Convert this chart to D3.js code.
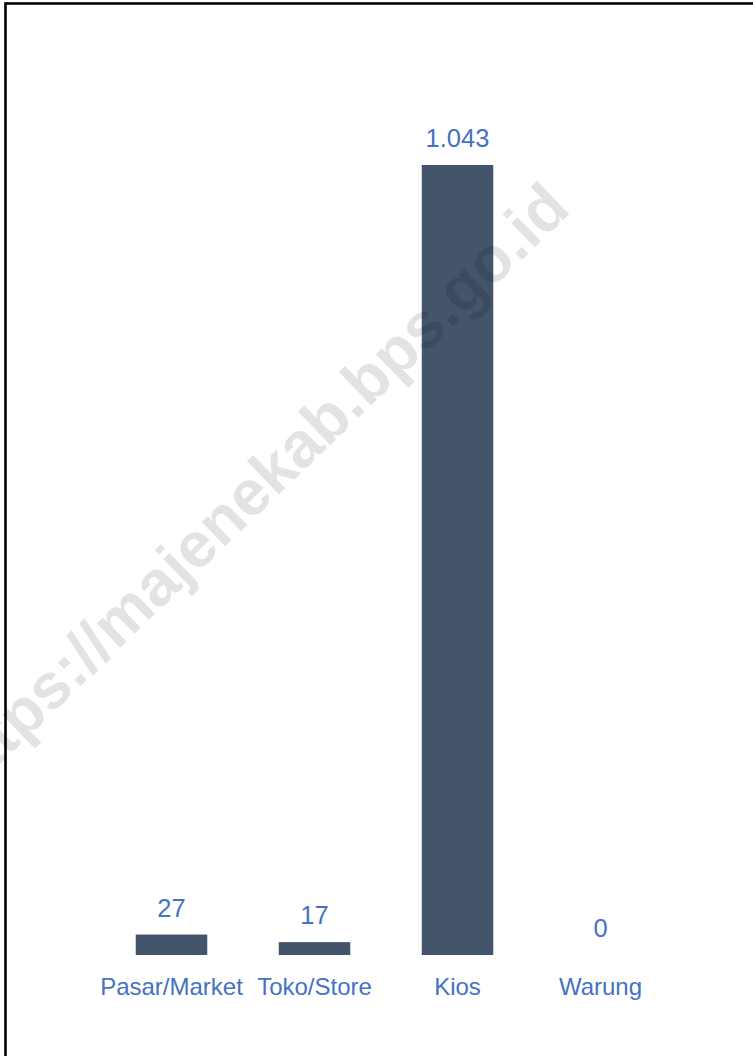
<!DOCTYPE html>
<html>
<head>
<meta charset="utf-8">
<script src="https://cdn.jsdelivr.net/npm/d3@7"></script>
<style>
  body { margin: 0; background: #fff; }
  svg { display: block; font-family: "Liberation Sans", Arial, sans-serif; }
</style>
</head>
<body>
<svg id="chart"></svg>
<script>
// chart data
const categories = ["Pasar/Market", "Toko/Store", "Kios", "Warung"];
const values = [27, 17, 1043, 0];
const valueLabels = ["27", "17", "1.043", "0"];

const width = 753;
const height = 1056;

const BAR_COLOR = "#44546A";
const TEXT_BLUE = "#4472C4";

const svg = d3.select("#chart")
    .attr("width", width)
    .attr("height", height);

// frame (only top and left edges fall inside the picture)
svg.append("rect")
    .attr("x", 5.5)
    .attr("y", 3.5)
    .attr("width", width + 20)
    .attr("height", height + 20)
    .attr("fill", "none")
    .attr("stroke", "#000")
    .attr("stroke-width", 2.6);

const baseline = 955;

const x = d3.scaleBand()
    .domain(categories)
    .range([100, 672])
    .paddingInner(0.5)
    .paddingOuter(0.25);

const y = d3.scaleLinear()
    .domain([0, 1043])
    .range([baseline, 165]);

// bars
svg.append("g")
    .selectAll("rect")
    .data(values)
    .enter()
    .append("rect")
    .attr("x", (d, i) => x(categories[i]))
    .attr("y", d => y(d))
    .attr("width", x.bandwidth())
    .attr("height", d => baseline - y(d))
    .attr("fill", BAR_COLOR);

// value labels
svg.append("g")
    .selectAll("text")
    .data(values)
    .enter()
    .append("text")
    .attr("x", (d, i) => x(categories[i]) + x.bandwidth() / 2)
    .attr("y", d => y(d) - 18)
    .attr("text-anchor", "middle")
    .attr("font-size", 25.5)
    .attr("fill", TEXT_BLUE)
    .text((d, i) => valueLabels[i]);

// category axis, no line or ticks
const xAxis = svg.append("g")
    .attr("transform", `translate(0,${baseline})`)
    .call(d3.axisBottom(x).tickSize(0).tickPadding(22.5));

xAxis.select(".domain").remove();
xAxis.selectAll("text")
    .attr("font-size", 24)
    .attr("font-family", "Liberation Sans, Arial, sans-serif")
    .attr("fill", TEXT_BLUE);

// watermark
svg.append("text")
    .attr("transform", "translate(268,505) rotate(-44)")
    .attr("text-anchor", "middle")
    .attr("font-size", 64)
    .attr("font-weight", "bold")
    .attr("fill", "#000")
    .attr("fill-opacity", 0.11)
    .text("https://majenekab.bps.go.id");
</script>
</body>
</html>
